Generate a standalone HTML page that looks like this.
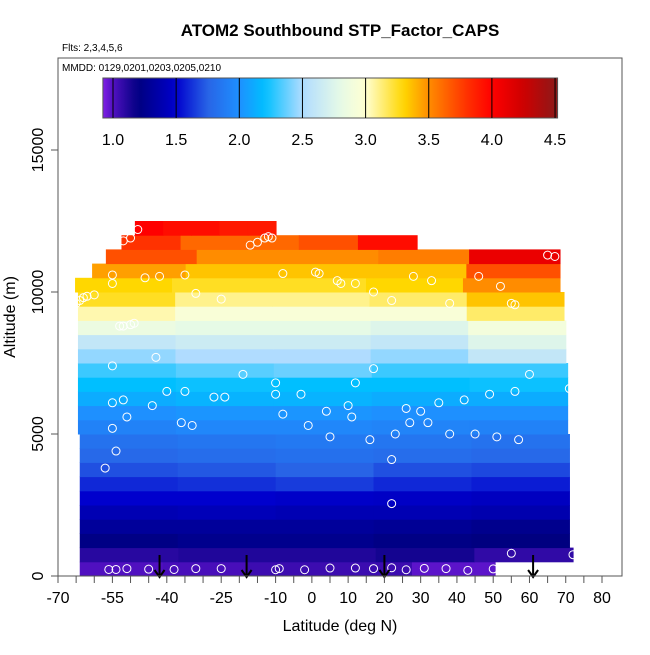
<!DOCTYPE html>
<html><head><meta charset="utf-8"><style>
body{margin:0;background:#fff;font-family:"Liberation Sans",sans-serif;}
svg text{font-family:"Liberation Sans",sans-serif;}
</style></head><body>
<svg id="chart" width="650" height="650" viewBox="0 0 650 650">
<rect x="0" y="0" width="650" height="650" fill="#fff"/>
<text x="340" y="36" text-anchor="middle" font-size="17" font-weight="bold">ATOM2 Southbound STP_Factor_CAPS</text>
<text x="62" y="51" font-size="10">Flts: 2,3,4,5,6</text>
<g id="cells"></g>
<g id="points"></g>
<g id="arrows"></g>
<rect x="58" y="58" width="564" height="518" fill="none" stroke="#555" stroke-width="1"/>
<text x="62" y="71" font-size="10">MMDD: 0129,0201,0203,0205,0210</text>
<g id="cbar"></g>
<g id="xaxis"></g>
<g id="yaxis"></g>
<text x="340" y="631" text-anchor="middle" font-size="16">Latitude (deg N)</text>
<text transform="translate(15,317) rotate(-90)" text-anchor="middle" font-size="16">Altitude (m)</text>
</svg>
<script>
const bandBottoms=[0,500,1000,1500,2000,2500,3000,3500,4000,4500,5000,5500,6000,6500,7000,7500,8000,8500,9000,9500,10000,10500,11000,11500,12000];
const bandLatStart=[-64,-64,-64,-64,-64,-64,-64,-64,-64,-64,-64.5,-64.5,-64.5,-64.5,-64.5,-64.5,-64.5,-64.5,-64.5,-64.5,-65.3,-60.6,-56.8,-52.5,-48.8];
const bandLatEnd=[50.5,72,71,71,71,71,71,71,71,71,70.5,70.5,70.5,70.5,70.5,70,70,70,69.5,69.5,68.4,68.4,68.4,29,-9.9];
// values across 5 equal latitude segments of each band
const bandValues=[
[1.0,1.02,1.05,1.05,0.98],[1.1,1.12,1.12,1.15,1.08],[1.22,1.25,1.25,1.22,1.2],[1.3,1.3,1.3,1.28,1.25],
[1.4,1.42,1.4,1.4,1.38],[1.5,1.5,1.48,1.47,1.45],[1.6,1.62,1.65,1.6,1.57],[1.7,1.72,1.75,1.7,1.68],
[1.78,1.8,1.82,1.8,1.78],[1.83,1.85,1.87,1.85,1.83],[1.92,1.95,1.95,1.93,1.92],[2.0,2.02,2.02,2.0,2.0],
[2.12,2.15,2.15,2.12,2.12],[2.2,2.22,2.2,2.2,2.22],[2.3,2.35,2.38,2.3,2.3],[2.45,2.5,2.5,2.45,2.6],
[2.6,2.65,2.65,2.6,2.75],[2.85,2.8,2.8,2.75,2.9],[3.05,2.95,2.95,2.95,3.15],[3.25,3.1,3.1,3.15,3.35],
[3.3,3.25,3.25,3.3,3.5],[3.45,3.35,3.35,3.35,3.7],[3.7,3.5,3.5,3.55,4.1],[3.8,3.62,3.62,3.7,3.95],[4.0,3.95,3.95,3.9,3.9]];
const ptLat=[-67,-56,-54,-51,-45,-38,-32,-25,-10,-9,-2,5,12,17,22,26,31,37,43,50,55,72,
-68,-67,-55,-55,-52,-51,-40,-35,-33,-27,-24,-19,-10,-10,-8,-3,-1,4,5,10,11,12,16,17,22,22,23,26,27,30,32,35,38,42,45,49,51,56,57,60,71,-55,-54,-57,-44,-43,-36,
-68,-66,-65,-64,-63,-62,-60,-53,-52,-50,-49,-55,-55,-52,-50,-48,-32,-25,-46,-42,-35,-17,-15,-13,-12,-11,-8,1,2,7,8,12,17,22,28,33,38,46,52,55,56,65,67];
const ptAlt=[250,230,230,260,240,230,260,260,220,260,220,280,280,260,290,220,270,260,200,250,800,750,
5600,5200,6100,5200,6200,5600,6500,6500,5300,6300,6300,7100,6800,6400,5700,6400,5300,5800,4900,6000,5600,6800,4800,7300,4100,2550,5000,5900,5400,5800,5400,6100,5000,6200,5000,6400,4900,6500,4800,7100,6600,7400,4400,3800,6000,7700,5400,
10100,9500,9600,9700,9800,9850,9900,8800,8800,8850,8900,10300,10600,11800,11900,12200,9950,9750,10500,10550,10600,11650,11750,11900,11950,11900,10650,10700,10650,10400,10300,10300,10000,9700,10550,10400,9600,10550,10200,9600,9550,11300,11250];
const arrowLats=[-42,-18,20,61];
const xTicks=[-70,-65,-60,-55,-50,-45,-40,-35,-30,-25,-20,-15,-10,-5,0,5,10,15,20,25,30,35,40,45,50,55,60,65,70,75,80];
const xLabels=[-70,-55,-40,-25,-10,0,10,20,30,40,50,60,70,80];
const yTicks=[0,5000,10000,15000];
const cbTicks=[1.0,1.5,2.0,2.5,3.0,3.5,4.0,4.5];

const X=v=>58+(v+70)*544/150;
const Y=v=>576-v*0.0284;
const CB=v=>113+(v-1.0)*126.3;
const NS="http://www.w3.org/2000/svg";
function mk(tag,attrs,parent){const e=document.createElementNS(NS,tag);for(const k in attrs)e.setAttribute(k,attrs[k]);parent.appendChild(e);return e;}
const stops=[[0.92,[128,32,230]],[1.0,[80,16,192]],[1.2,[0,0,128]],[1.5,[0,0,205]],[1.75,[40,100,230]],[2.0,[30,144,255]],[2.2,[0,191,255]],[2.5,[176,220,255]],[2.8,[230,250,230]],[3.0,[255,255,210]],[3.3,[255,215,0]],[3.5,[255,140,0]],[3.8,[255,50,0]],[4.0,[255,0,0]],[4.25,[205,0,0]],[4.52,[139,26,26]]];
function col(v){if(v<=stops[0][0])return`rgb(${stops[0][1]})`;for(let i=1;i<stops.length;i++){if(v<=stops[i][0]){const a=stops[i-1],b=stops[i],t=(v-a[0])/(b[0]-a[0]);return`rgb(${a[1].map((c,j)=>Math.round(c+(b[1][j]-c)*t)).join(',')})`;}}return`rgb(${stops[stops.length-1][1]})`;}

const cells=document.getElementById('cells');
bandBottoms.forEach((b,i)=>{
  const vals=bandValues[i],n=vals.length,l0=bandLatStart[i],l1=bandLatEnd[i],w=(l1-l0)/n;
  vals.forEach((v,j)=>{
    const x0=X(l0+j*w),x1=X(l0+(j+1)*w);
    const r=mk('rect',{x:x0,y:Y(b+500),width:x1-x0+0.6,height:Y(b)-Y(b+500)+0.5,fill:col(v)},cells);
    
    
  });
});
const pts=document.getElementById('points');
ptLat.forEach((la,i)=>{
  const c=mk('circle',{cx:X(la),cy:Y(ptAlt[i]),r:4,fill:'none',stroke:'#fff','stroke-width':1},pts);
  
  
});
const ar=document.getElementById('arrows');
arrowLats.forEach(la=>{
  const g=mk('g',{},ar);
  
  
  const x=X(la);
  mk('line',{x1:x,y1:555,x2:x,y2:577,stroke:'#000','stroke-width':2},g);
  mk('polyline',{points:`${x-5},${570} ${x},${577} ${x+5},${570}`,fill:'none',stroke:'#000','stroke-width':2},g);
});
const cb=document.getElementById('cbar');
const grad=mk('linearGradient',{id:'cg',x1:0,x2:1,y1:0,y2:0},mk('defs',{},cb));
for(let k=0;k<=60;k++){const v=0.92+k*(4.52-0.92)/60;mk('stop',{offset:k/60,'stop-color':col(v)},grad);}
mk('rect',{x:CB(0.92),y:78,width:CB(4.52)-CB(0.92),height:40,fill:'url(#cg)',stroke:'#555'},cb);
cbTicks.forEach(t=>{
  const l=mk('line',{x1:CB(t),x2:CB(t),y1:78,y2:118,stroke:'#000','stroke-width':1},cb);
  
  
  const tx=mk('text',{x:CB(t),y:145,'text-anchor':'middle','font-size':16},cb);
  tx.textContent=t.toFixed(1);
  
  
});
const xa=document.getElementById('xaxis');
xTicks.forEach(t=>{
  const l=mk('line',{x1:X(t),x2:X(t),y1:576,y2:583,stroke:'#555'},xa);
  
  
});
xLabels.forEach(t=>{
  const tx=mk('text',{x:X(t),y:603,'text-anchor':'middle','font-size':16},xa);
  tx.textContent=t;
  
  
});
const ya=document.getElementById('yaxis');
yTicks.forEach(t=>{
  const l=mk('line',{x1:51,x2:58,y1:Y(t),y2:Y(t),stroke:'#555'},ya);
  
  
  const tx=mk('text',{transform:`translate(43,${Y(t)}) rotate(-90)`,'text-anchor':'middle','font-size':16},ya);
  tx.textContent=t;
  
  
});
</script>
</body></html>
